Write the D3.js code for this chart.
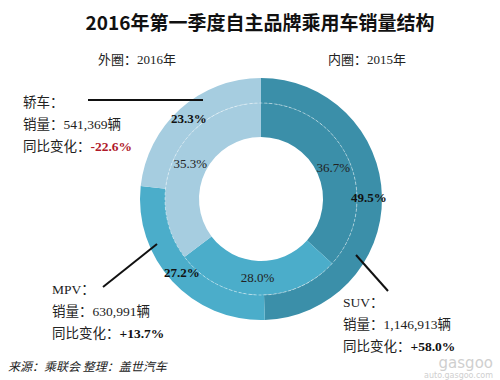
<!DOCTYPE html>
<html><head><meta charset="utf-8">
<script src="https://cdn.jsdelivr.net/npm/d3@7/dist/d3.min.js"></script>
<style>
body{margin:0;background:#fff;}
svg{display:block;font-family:"Liberation Serif","Noto Sans CJK SC",serif;}
</style></head><body>
<svg id="c" width="500" height="380"></svg>
<script>
const categories = ["SUV", "MPV", "轿车"];
const share2016 = [49.5, 27.2, 23.3];
const share2015 = [36.7, 28.0, 35.3];
const sales2016 = ["1,146,913", "630,991", "541,369"];
const yoyChange = ["+58.0%", "+13.7%", "-22.6%"];
const colors = ["#3b8fa9", "#4badca", "#a6cde0"];

const svg = d3.select("#c");
const cx = 261, cy = 199;
const cjk = "'Noto Sans CJK SC', sans-serif";
const serif = "'Liberation Serif','Noto Sans CJK SC',serif";

svg.append("text").attr("x", 260).attr("y", 30).attr("text-anchor", "middle")
  .attr("font-family", cjk).attr("font-weight", "bold").attr("font-size", 19)
  .attr("fill", "#111").text("2016年第一季度自主品牌乘用车销量结构");

function mixed(x, y, parts, size) {
  const t = svg.append("text").attr("x", x).attr("y", y).attr("font-size", size || 13).attr("fill", "#222");
  parts.forEach(p => {
    const s = t.append("tspan").attr("font-family", p.f || serif).text(p.t);
    if (p.w) s.attr("font-weight", p.w);
    if (p.c) s.attr("fill", p.c);
  });
  return t;
}
mixed(98, 64, [{t:"外圈：", f:cjk}, {t:"2016"}, {t:"年", f:cjk}], 13);
mixed(328, 64, [{t:"内圈：", f:cjk}, {t:"2015"}, {t:"年", f:cjk}], 13);

const pie = d3.pie().sort(null).value(d => d);
const g = svg.append("g").attr("transform", `translate(${cx},${cy})`);

const innerArc = d3.arc().innerRadius(62).outerRadius(96);
const outerArc = d3.arc().innerRadius(96).outerRadius(121);

const p15 = pie(share2015), p16 = pie(share2016);
g.selectAll("path.in").data(p15).join("path").attr("class", "in")
  .attr("d", innerArc).attr("fill", (d, i) => colors[i]);
g.selectAll("path.out").data(p16).join("path").attr("class", "out")
  .attr("d", outerArc).attr("fill", (d, i) => colors[i]);
g.append("circle").attr("r", 96).attr("fill", "none").attr("stroke", "#ffffff")
  .attr("stroke-opacity", 0.45).attr("stroke-width", 1).attr("stroke-dasharray", "3,2");

const lblOut = d3.arc().innerRadius(108).outerRadius(108);
const lblIn = d3.arc().innerRadius(79).outerRadius(79);
g.selectAll("text.lo").data(p16).join("text").attr("class", "lo")
  .attr("transform", d => `translate(${lblOut.centroid(d)})`)
  .attr("text-anchor", "middle").attr("dy", "0.35em")
  .attr("font-family", serif).attr("font-weight", "bold").attr("font-size", 13).attr("fill", "#111")
  .text((d, i) => share2016[i].toFixed(1) + "%");
g.selectAll("text.li").data(p15).join("text").attr("class", "li")
  .attr("transform", d => `translate(${lblIn.centroid(d)})`)
  .attr("text-anchor", "middle").attr("dy", "0.35em")
  .attr("font-family", serif).attr("font-size", 13).attr("fill", "#222")
  .text((d, i) => share2015[i].toFixed(1) + "%");

// leader lines
const lines = [[[356,255],[388,291]], [[157,244],[103,287]], [[88,100],[203,100]]];
lines.forEach(l => svg.append("line").attr("x1", l[0][0]).attr("y1", l[0][1])
  .attr("x2", l[1][0]).attr("y2", l[1][1]).attr("stroke", "#111").attr("stroke-width", 2));

// annotation blocks
const blocks = [[343, 307], [52, 294], [23, 107]];
categories.forEach((c, i) => {
  const [x, y] = blocks[i];
  const isLatin = /^[A-Z]+$/.test(c);
  mixed(x, y, [{t:c, f: isLatin ? serif : cjk}, {t:"：", f:cjk}], 13.5);
  mixed(x, y + 22, [{t:"销量：", f:cjk}, {t:sales2016[i]}, {t:"辆", f:cjk}], 13.5);
  mixed(x, y + 44, [{t:"同比变化：", f:cjk}, {t:yoyChange[i], w:"bold", c: yoyChange[i][0] === "-" ? "#b0192a" : "#111"}], 13.5);
});

svg.append("text").attr("x", 8).attr("y", 371).attr("font-family", cjk)
  .attr("font-style", "italic").attr("font-size", 12).attr("fill", "#222")
  .text("来源：乘联会  整理：盖世汽车");

// watermark
svg.append("text").attr("x", 493).attr("y", 368).attr("text-anchor", "end")
  .attr("font-family", "'DejaVu Sans',sans-serif").attr("font-size", 15).attr("fill", "#cfcfcf")
  .text("gasgoo");
svg.append("text").attr("x", 493).attr("y", 378).attr("text-anchor", "end")
  .attr("font-family", "'DejaVu Sans',sans-serif").attr("font-size", 8).attr("fill", "#cfcfcf")
  .text("auto.gasgoo.com");
</script>
</body></html>
